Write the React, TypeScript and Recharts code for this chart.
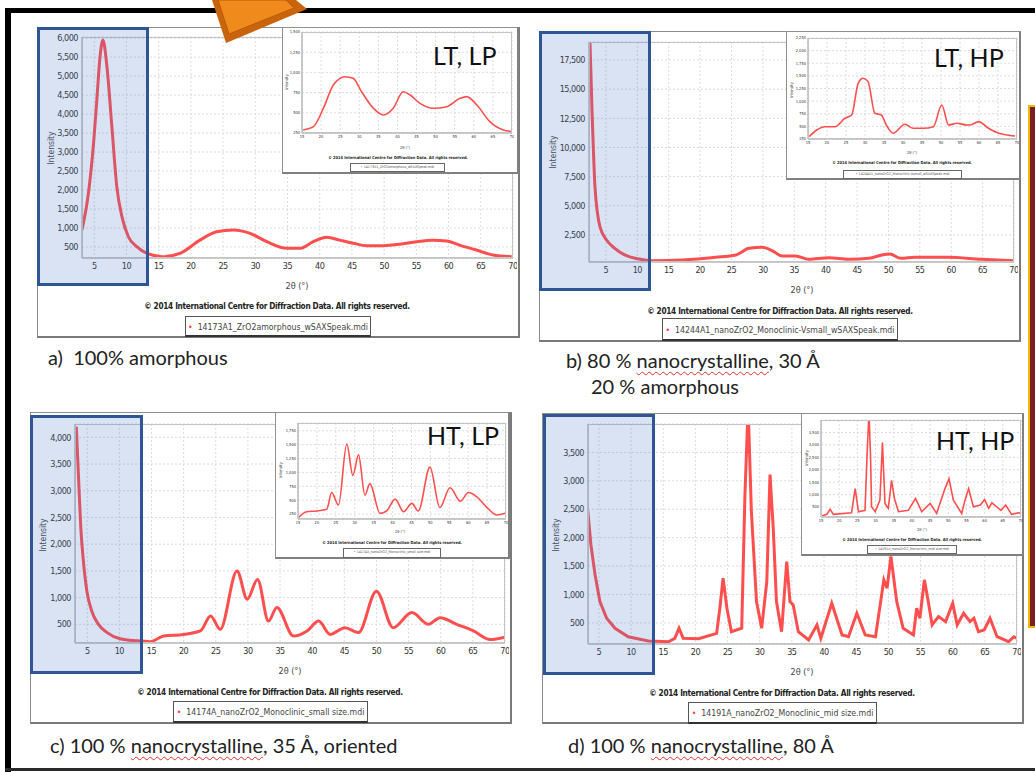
import React from 'react';
import { LineChart, Line, XAxis, YAxis, CartesianGrid } from 'recharts';

type Pt = [number, number];

// ---------- tick labels ----------
const MAIN_X_TICKS = [5, 10, 15, 20, 25, 30, 35, 40, 45, 50, 55, 60, 65, 70];
const INSET_X_TICKS = [15, 20, 25, 30, 35, 40, 45, 50, 55, 60, 65, 70];
const A_Y_TICKS = [500, 1000, 1500, 2000, 2500, 3000, 3500, 4000, 4500, 5000, 5500, 6000];
const B_Y_TICKS = [2500, 5000, 7500, 10000, 12500, 15000, 17500];
const C_Y_TICKS = [500, 1000, 1500, 2000, 2500, 3000, 3500, 4000];
const D_Y_TICKS = [500, 1000, 1500, 2000, 2500, 3000, 3500];
const A_INSET_Y_TICKS = [250, 500, 750, 1000, 1250, 1500];
const B_INSET_Y_TICKS = [250, 500, 750, 1000, 1250, 1500, 1750, 2000, 2250];
const C_INSET_Y_TICKS = [250, 500, 750, 1000, 1250, 1500, 1750];
const D_INSET_Y_TICKS = [500, 1000, 1500, 2000, 2500, 3000, 3500];

// ---------- series: [2θ, intensity] ----------
const aMain: Pt[] = [
  [3.1, 950], [4.1, 1920], [4.9, 3240], [5.4, 4370], [5.9, 5510], [6.35, 5950], [6.97, 5250],
  [7.74, 3660], [8.5, 2090], [9.3, 1300], [10.3, 770], [11.6, 510], [13.2, 330], [15.7, 245],
  [18.3, 330], [21.4, 680], [24.0, 900], [26.6, 950], [29.2, 860], [31.8, 640], [34.9, 465],
  [36.9, 465], [39.0, 640], [41.1, 755], [43.1, 680], [45.2, 600], [47.3, 535], [49.8, 535],
  [52.4, 570], [55.0, 640], [57.6, 680], [59.7, 660], [61.7, 550], [64.3, 420], [66.9, 290],
  [69.8, 245],
];
const aInset: Pt[] = [
  [15.3, 287], [18.0, 328], [20.6, 556], [23.2, 844], [26.3, 947], [28.4, 927], [30.6, 761],
  [33.7, 556], [36.3, 473], [38.9, 556], [41.5, 761], [43.3, 720], [45.9, 617], [49.4, 556],
  [52.9, 576], [56.4, 679], [58.1, 700], [60.8, 597], [64.2, 390], [67.7, 287], [69.9, 270],
];
const bMain: Pt[] = [
  [2.45, 19000], [2.6, 16500], [2.8, 12800], [3.0, 9800], [3.25, 6640], [4.04, 3210], [5.1, 2070],
  [6.4, 1360], [8.0, 790], [10.3, 440], [12.4, 300], [17.2, 360], [22.5, 590], [25.7, 790],
  [27.8, 1360], [29.9, 1440], [31.5, 1150], [33.1, 700], [35.2, 700], [37.3, 420], [40.5, 560],
  [43.7, 420], [46.9, 500], [49.0, 790], [50.2, 870], [52.0, 500], [54.2, 590], [59.5, 590],
  [64.8, 420], [70, 300],
];
const bInset: Pt[] = [
  [15.3, 296], [17.3, 428], [19.5, 494], [22.1, 494], [24.7, 660], [26.5, 726], [28.2, 1353],
  [29.5, 1452], [30.8, 1386], [32.6, 759], [34.3, 726], [35.6, 528], [37.4, 363], [40.5, 541],
  [42.7, 462], [45.4, 462], [48.0, 494], [50.2, 924], [52.0, 528], [54.2, 561], [56.8, 528],
  [57.7, 528], [59.9, 594], [62.5, 462], [65.2, 363], [69.5, 310],
];
const cMain: Pt[] = [
  [3.3, 4200], [3.65, 3250], [4.0, 2310], [4.4, 1690], [4.95, 1120], [5.7, 750], [6.75, 500],
  [8.1, 345], [10.1, 230], [12.7, 190], [14.8, 175], [16.9, 280], [20.0, 310], [22.6, 375],
  [24.2, 655], [25.7, 405], [28.3, 1500], [29.9, 970], [31.5, 1340], [33.2, 560], [34.5, 815],
  [37.1, 280], [39.2, 375], [41.0, 560], [42.8, 310], [45.1, 435], [47.2, 345], [50.0, 1120],
  [52.6, 435], [55.5, 720], [58.1, 500], [59.9, 625], [62.5, 500], [65.1, 375], [67.7, 215],
  [70, 260],
];
const cInset: Pt[] = [
  [15.1, 184], [17.3, 291], [19.9, 304], [22.6, 334], [23.9, 637], [25.7, 411], [27.9, 1512],
  [29.5, 946], [31.0, 1316], [32.7, 589], [34.0, 798], [36.7, 262], [38.4, 304], [40.7, 518],
  [42.9, 291], [45.1, 441], [46.8, 304], [49.9, 1095], [52.5, 366], [55.2, 723], [57.9, 482],
  [60.1, 637], [62.3, 559], [65.0, 366], [67.6, 232], [69.8, 262],
];
const dMain: Pt[] = [
  [3.25, 2493], [3.75, 1876], [4.4, 1347], [5.15, 876], [6.2, 583], [7.5, 407], [9.55, 258],
  [12.7, 183], [15.8, 170], [16.8, 230], [17.45, 407], [18.1, 230], [20.5, 223], [23.3, 318],
  [23.8, 759], [24.3, 1288], [24.9, 759], [25.6, 347], [27.2, 407], [27.7, 2758], [28.2, 4300],
  [28.7, 2463], [29.5, 876], [30.3, 407], [31.1, 1228], [31.6, 3110], [32.1, 2170], [32.6, 876],
  [33.4, 347], [34.2, 1581], [34.7, 876], [35.2, 817], [36.0, 347], [37.6, 200], [38.9, 465],
  [39.5, 230], [41.2, 847], [42.8, 288], [43.8, 258], [45.1, 670], [46.4, 288], [48.0, 258],
  [49.3, 1258], [49.8, 1112], [50.4, 1670], [51.3, 876], [52.3, 407], [53.9, 288], [54.4, 759],
  [54.9, 583], [55.6, 1258], [56.2, 876], [56.8, 465], [57.8, 612], [58.9, 523], [60.0, 847],
  [60.7, 465], [61.7, 670], [62.7, 523], [63.3, 583], [64.0, 347], [64.9, 377], [65.8, 583],
  [66.9, 258], [68.7, 170], [69.5, 258], [70, 230],
];
const dInset: Pt[] = [
  [15.2, 143], [16.6, 205], [17.5, 409], [18.4, 205], [23.4, 270], [24.4, 1242], [25.3, 313],
  [27.1, 369], [27.7, 2700], [28.2, 4300], [28.65, 2400], [28.9, 512], [29.9, 313], [31.2, 778],
  [31.5, 1800], [31.9, 3091], [32.2, 2000], [32.6, 647], [33.5, 448], [34.4, 1571], [35.2, 845],
  [36.3, 313], [39.0, 369], [41.0, 845], [42.7, 313], [45.0, 647], [46.8, 246], [49.1, 1242],
  [50.2, 1639], [51.4, 778], [53.7, 246], [54.6, 778], [55.6, 1242], [56.9, 512], [58.8, 579],
  [60.0, 806], [61.1, 448], [62.0, 671], [63.3, 512], [64.5, 369], [65.8, 579], [67.4, 205],
  [69.3, 270], [70, 246],
];

const NARROW = '"Liberation Sans Narrow", "DejaVu Sans Condensed", Arial, sans-serif';
const CAP = 'Lato, "Open Sans", sans-serif';
const RED = '#ff3b3b';

interface Box { l: number; t: number; r: number; b: number }

interface PlotProps {
  data: Pt[];
  plot: Box;
  xDomain: [number, number];
  yDomain: [number, number];
  xTicks: number[];
  yTicks: number[];
  small?: boolean;
  smooth?: boolean;
}

function Plot({ data, plot, xDomain, yDomain, xTicks, yTicks, small, smooth }: PlotProps) {
  const yw = small ? 18 : 45;
  const mt = small ? 3 : 6;
  const mr = small ? 2 : 4;
  const xh = small ? 8 : 18;
  const W = plot.r - plot.l + yw + mr;
  const H = plot.b - plot.t + mt + xh;
  const rows = data.map(([x, y]) => ({ x, y }));
  const tickStyle = { fontSize: small ? 4 : 9, fill: '#333', fontFamily: NARROW, letterSpacing: small ? 0 : -0.5 };
  const fmt = (v: number) => v.toLocaleString('en-US');
  return (
    <div style={{ position: 'absolute', left: plot.l - yw, top: plot.t - mt, width: W, height: H }}>
      <LineChart width={W} height={H} data={rows} margin={{ top: mt, right: mr, bottom: 0, left: 0 }}>
        <CartesianGrid stroke="#dcdcdc" strokeDasharray="2 2" />
        <XAxis
          type="number"
          dataKey="x"
          domain={xDomain}
          ticks={xTicks}
          allowDataOverflow
          interval={0}
          height={xh}
          tick={tickStyle}
          tickLine={false}
          tickSize={small ? 2 : 5}
          tickMargin={0}
          axisLine={{ stroke: '#a0a0a0' }}
        />
        <YAxis
          type="number"
          dataKey="y"
          domain={yDomain}
          ticks={yTicks}
          allowDataOverflow
          interval={0}
          width={yw}
          tick={tickStyle}
          tickFormatter={fmt}
          tickLine={false}
          tickSize={small ? 2 : 3}
          tickMargin={small ? 0 : 1}
          axisLine={{ stroke: '#a0a0a0' }}
        />
        <Line
          dataKey="y"
          type={smooth ? 'monotone' : 'linear'}
          stroke={RED}
          strokeOpacity={0.9}
          strokeWidth={small ? 1.6 : 3}
          dot={false}
          isAnimationActive={false}
        />
      </LineChart>
      <div
        style={{
          position: 'absolute',
          left: yw,
          top: mt,
          width: plot.r - plot.l,
          height: plot.b - plot.t,
          border: '1px solid #c4c4c4',
          boxSizing: 'border-box',
          pointerEvents: 'none',
        }}
      />
    </div>
  );
}

function CText({ x, y, children, style }: { x: number; y: number; children: React.ReactNode; style?: React.CSSProperties }) {
  return (
    <div style={{ position: 'absolute', left: x, top: y, transform: 'translate(-50%, -50%)', whiteSpace: 'nowrap', lineHeight: 1, ...style }}>
      {children}
    </div>
  );
}

function LText({ x, y, children, style }: { x: number; y: number; children: React.ReactNode; style?: React.CSSProperties }) {
  return (
    <div style={{ position: 'absolute', left: x, top: y, transform: 'translateY(-50%)', whiteSpace: 'nowrap', lineHeight: 1, ...style }}>
      {children}
    </div>
  );
}

function Rect({ b, style }: { b: Box; style: React.CSSProperties }) {
  return <div style={{ position: 'absolute', left: b.l, top: b.t, width: b.r - b.l, height: b.b - b.t, boxSizing: 'border-box', ...style }} />;
}

interface PanelSpec {
  box: Box;
  plot: Box;
  xDomain: [number, number];
  yDomain: [number, number];
  yTicks: number[];
  data: Pt[];
  insetBox: Box;
  insetPlot: Box;
  insetY: [number, number];
  insetTicks: number[];
  insetData: Pt[];
  intensity: [number, number];
  twoTheta: [number, number];
  copy: [number, number];
  legend: Box;
  legendText: string;
  insetIntensity: [number, number];
  insetTwoTheta: [number, number];
  insetCopy: [number, number];
  insetLegend: Box;
  tag: string;
  tagPos: [number, number];
  blue: Box;
  smooth: boolean;
}

const COPY = '\u00a9 2014 International Centre for Diffraction Data. All rights reserved.';

function Panel({ s }: { s: PanelSpec }) {
  return (
    <>
      <Rect b={s.box} style={{ border: '1px solid #8c8c8c', borderRight: '2px solid #7a7a7a', borderBottom: '2px solid #7a7a7a', background: '#fff' }} />
      <Plot data={s.data} plot={s.plot} xDomain={s.xDomain} yDomain={s.yDomain} xTicks={MAIN_X_TICKS} yTicks={s.yTicks} smooth={s.smooth} />
      <CText x={s.intensity[0]} y={s.intensity[1]} style={{ fontFamily: NARROW, fontSize: 8.5, color: '#444', transform: 'translate(-50%, -50%) rotate(-90deg)' }}>
        Intensity
      </CText>
      <CText x={s.twoTheta[0]} y={s.twoTheta[1]} style={{ fontFamily: NARROW, fontSize: 9, color: '#444' }}>
        2θ (°)
      </CText>
      <CText x={s.copy[0]} y={s.copy[1]} style={{ fontFamily: NARROW, fontSize: 8.2, fontWeight: 'bold', color: '#222', letterSpacing: -0.3 }}>
        {COPY}
      </CText>
      <Rect b={s.legend} style={{ border: '1px solid #555', borderBottom: '2px solid #333', background: '#fff' }} />
      <CText x={(s.legend.l + s.legend.r) / 2} y={(s.legend.t + s.legend.b) / 2} style={{ fontFamily: NARROW, fontSize: 8.7, color: '#444' }}>
        <span style={{ color: RED }}>•</span>&nbsp;&nbsp;{s.legendText}
      </CText>

      <Rect b={s.insetBox} style={{ border: '1px solid #909090', borderRight: '2px solid #808080', borderBottom: '2px solid #808080', background: '#fff' }} />
      <Plot data={s.insetData} plot={s.insetPlot} xDomain={[15, 70]} yDomain={s.insetY} xTicks={INSET_X_TICKS} yTicks={s.insetTicks} small smooth={s.smooth} />
      <CText x={s.insetIntensity[0]} y={s.insetIntensity[1]} style={{ fontFamily: NARROW, fontSize: 4, color: '#444', transform: 'translate(-50%, -50%) rotate(-90deg)' }}>
        Intensity
      </CText>
      <CText x={s.insetTwoTheta[0]} y={s.insetTwoTheta[1]} style={{ fontFamily: NARROW, fontSize: 4, color: '#444' }}>
        2θ (°)
      </CText>
      <CText x={s.insetCopy[0]} y={s.insetCopy[1]} style={{ fontFamily: NARROW, fontSize: 4, fontWeight: 'bold', color: '#222' }}>
        {COPY}
      </CText>
      <Rect b={s.insetLegend} style={{ border: '1px solid #666', background: '#fff' }} />
      <CText x={(s.insetLegend.l + s.insetLegend.r) / 2} y={(s.insetLegend.t + s.insetLegend.b) / 2} style={{ fontFamily: NARROW, fontSize: 3.6, color: '#555' }}>
        <span style={{ color: RED }}>•</span> {s.legendText}
      </CText>
      <LText x={s.tagPos[0]} y={s.tagPos[1]} style={{ fontFamily: CAP, fontSize: 25, color: '#111' }}>
        {s.tag}
      </LText>
      <Rect b={s.blue} style={{ border: '3px solid #2e5594', background: 'rgba(68, 114, 196, 0.2)' }} />
    </>
  );
}

const panels: PanelSpec[] = [
  {
    box: { l: 37, t: 27, r: 520, b: 338 },
    plot: { l: 82, r: 513, t: 37, b: 258 },
    xDomain: [3.1, 70],
    yDomain: [210, 6030],
    yTicks: A_Y_TICKS,
    data: aMain,
    insetBox: { l: 282, t: 27, r: 519, b: 174 },
    insetPlot: { l: 302, r: 512, t: 32, b: 133 },
    insetY: [250, 1500],
    insetTicks: A_INSET_Y_TICKS,
    insetData: aInset,
    intensity: [51, 148],
    twoTheta: [297, 286],
    copy: [277, 306],
    legend: { l: 185, r: 371, t: 316, b: 337 },
    legendText: '14173A1_ZrO2amorphous_wSAXSpeak.mdi',
    insetIntensity: [287, 82],
    insetTwoTheta: [405, 148],
    insetCopy: [398, 158],
    insetLegend: { l: 350, r: 445, t: 163, b: 172 },
    tag: 'LT, LP',
    tagPos: [433, 55],
    blue: { l: 37, t: 27, r: 149, b: 286 },
    smooth: true,
  },
  {
    box: { l: 539, t: 31, r: 1021, b: 342 },
    plot: { l: 589, r: 1014, t: 42, b: 262 },
    xDomain: [2.3, 70],
    yDomain: [186, 19040],
    yTicks: B_Y_TICKS,
    data: bMain,
    insetBox: { l: 786, t: 31, r: 1021, b: 180 },
    insetPlot: { l: 808, r: 1017, t: 38, b: 139 },
    insetY: [250, 2250],
    insetTicks: B_INSET_Y_TICKS,
    insetData: bInset,
    intensity: [553, 152],
    twoTheta: [802, 290],
    copy: [780, 311],
    legend: { l: 662, r: 898, t: 318, b: 341 },
    legendText: '14244A1_nanoZrO2_Monoclinic-Vsmall_wSAXSpeak.mdi',
    insetIntensity: [792, 90],
    insetTwoTheta: [912, 153],
    insetCopy: [902, 163],
    insetLegend: { l: 843, r: 962, t: 170, b: 179 },
    tag: 'LT, HP',
    tagPos: [934, 57],
    blue: { l: 539, t: 31, r: 651, b: 291 },
    smooth: true,
  },
  {
    box: { l: 30, t: 412, r: 512, b: 724 },
    plot: { l: 75, r: 505, t: 424, b: 643 },
    xDomain: [3.1, 70],
    yDomain: [150, 4250],
    yTicks: C_Y_TICKS,
    data: cMain,
    insetBox: { l: 275, t: 412, r: 510, b: 559 },
    insetPlot: { l: 298, r: 506, t: 423, b: 519 },
    insetY: [160, 1890],
    insetTicks: C_INSET_Y_TICKS,
    insetData: cInset,
    intensity: [43, 535],
    twoTheta: [290, 671],
    copy: [270, 692],
    legend: { l: 173, r: 368, t: 701, b: 723 },
    legendText: '14174A_nanoZrO2_Monoclinic_small size.mdi',
    insetIntensity: [281, 470],
    insetTwoTheta: [400, 532],
    insetCopy: [392, 543],
    insetLegend: { l: 343, r: 441, t: 548, b: 558 },
    tag: 'HT, LP',
    tagPos: [427, 435],
    blue: { l: 30, t: 415, r: 143, b: 674 },
    smooth: true,
  },
  {
    box: { l: 542, t: 413, r: 1024, b: 724 },
    plot: { l: 588, r: 1017, t: 424, b: 644 },
    xDomain: [3.3, 70],
    yDomain: [130, 4000],
    yTicks: D_Y_TICKS,
    data: dMain,
    insetBox: { l: 801, t: 413, r: 1024, b: 556 },
    insetPlot: { l: 821, r: 1021, t: 420, b: 517 },
    insetY: [100, 4000],
    insetTicks: D_INSET_Y_TICKS,
    insetData: dInset,
    intensity: [556, 535],
    twoTheta: [802, 672],
    copy: [782, 693],
    legend: { l: 688, r: 877, t: 702, b: 724 },
    legendText: '14191A_nanoZrO2_Monoclinic_mid size.mdi',
    insetIntensity: [807, 458],
    insetTwoTheta: [922, 530],
    insetCopy: [912, 540],
    insetLegend: { l: 867, r: 957, t: 545, b: 554 },
    tag: 'HT, HP',
    tagPos: [936, 440],
    blue: { l: 543, t: 414, r: 655, b: 675 },
    smooth: false,
  },
];

const squiggle: React.CSSProperties = {
  textDecorationLine: 'underline',
  textDecorationStyle: 'wavy',
  textDecorationColor: '#e03030',
  textDecorationThickness: '1px',
  textUnderlineOffset: '3px',
};

export default function App() {
  const capStyle: React.CSSProperties = { fontFamily: CAP, fontSize: 20, color: '#222' };
  return (
    <div style={{ position: 'absolute', left: 0, top: 0, width: 1035, height: 772, background: '#fff', overflow: 'hidden' }}>
      {/* frame */}
      <div style={{ position: 'absolute', left: 5, top: 8, width: 1030, height: 5, background: '#000' }} />
      <div style={{ position: 'absolute', left: 5, top: 8, width: 6, height: 764, background: '#000' }} />
      <div style={{ position: 'absolute', left: 5, top: 768, width: 1030, height: 3, background: '#2a2a2a' }} />

      {panels.map((s, i) => (
        <Panel key={i} s={s} />
      ))}

      {/* captions */}
      <LText x={48} y={357} style={capStyle}>a)&nbsp;&nbsp;100% amorphous</LText>
      <LText x={566} y={360} style={capStyle}>
        b) 80 % <span style={squiggle}>nanocrystalline</span>, 30 Å
      </LText>
      <LText x={591} y={386} style={capStyle}>20 % amorphous</LText>
      <LText x={50} y={745} style={capStyle}>
        c) 100 % <span style={squiggle}>nanocrystalline</span>, 35 Å, oriented
      </LText>
      <LText x={568} y={745} style={capStyle}>
        d) 100 % <span style={squiggle}>nanocrystalline</span>, 80 Å
      </LText>

      {/* dark red side box */}
      <div style={{ position: 'absolute', left: 1028, top: 105, width: 12, height: 523, background: '#7a1f24', border: '2px solid #f2b705', boxSizing: 'border-box' }} />

      {/* orange arrow */}
      <svg style={{ position: 'absolute', left: 0, top: 0 }} width={1035} height={60}>
        <polygon points="212,0 226,43 307,9 296,0" fill="#c9640c" />
        <polygon points="218,0 229,34 294,8 286,0" fill="#f08a1c" stroke="#b85a0a" strokeWidth={1} />
      </svg>
    </div>
  );
}
